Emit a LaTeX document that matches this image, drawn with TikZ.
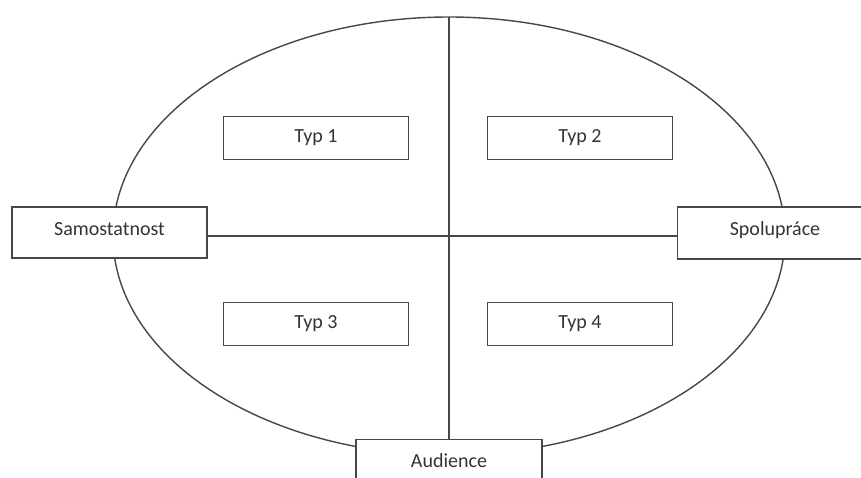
\documentclass[tikz,border=0pt]{standalone}
\usepackage{fontspec}
\setmainfont{Carlito}
\begin{document}
\begin{tikzpicture}[x=1pt,y=-1pt,
  ln/.style={draw=black!72,line width=1.4pt},
  tx/.style={font=\fontsize{20}{23}\selectfont,text=black!80},
  bx/.style={ln,fill=white,rectangle,inner sep=0pt,tx}]
\useasboundingbox (0,0) rectangle (861,478);
\clip (0,0) rectangle (861,478);
\draw[ln] (449,236) ellipse [x radius=336, y radius=219];
\node[bx,minimum width=195pt,minimum height=51pt] (sam) at (109.5,232.5) {};
\node[tx] (samt) at (109.5,229) {Samostatnost};
\node[bx,minimum width=195pt,minimum height=52pt,anchor=west] (spo) at (677,233) {};
\node[tx] (spot) at (775,230) {Spolupráce};
\node[bx,minimum width=186pt,minimum height=48pt,anchor=north] (aud) at (449,439) {};
\node[tx] (audt) at (449,461) {Audience};
\coordinate (top) at (449,17);
\coordinate (mid) at (449,236);
\draw[ln] (top) -- (aud.north);
\draw[ln] (sam.east |- mid) -- (spo.west |- mid);
\node[bx,minimum width=185pt,minimum height=43pt] (t1) at (316,138) {Typ 1};
\node[bx,minimum width=185pt,minimum height=43pt] (t2) at (580,138) {Typ 2};
\node[bx,minimum width=185pt,minimum height=43pt] (t3) at (316,324) {Typ 3};
\node[bx,minimum width=185pt,minimum height=43pt] (t4) at (580,324) {Typ 4};
\end{tikzpicture}
\end{document}
